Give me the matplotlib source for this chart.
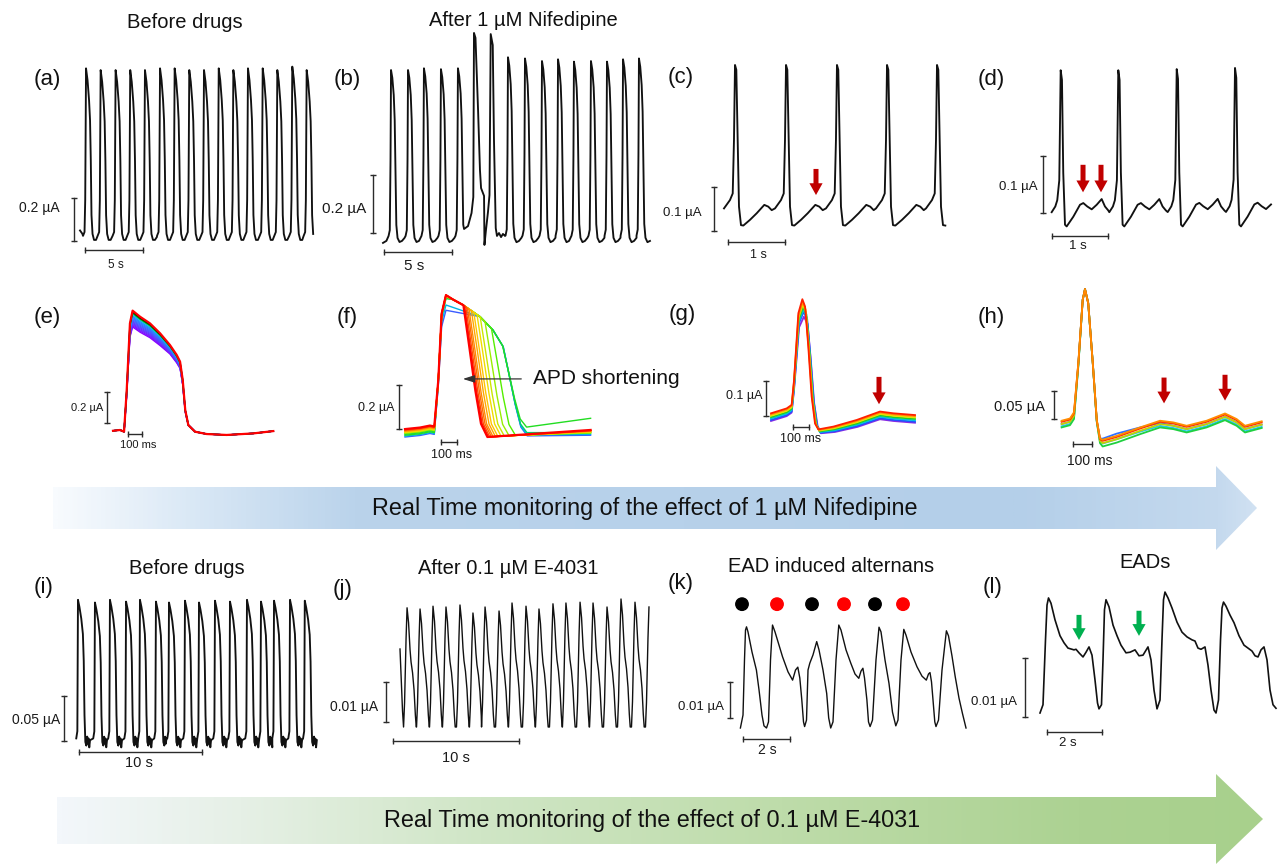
import numpy as np
import matplotlib
matplotlib.use('Agg')
import matplotlib.pyplot as plt
from matplotlib.patches import Polygon, FancyArrowPatch
from matplotlib.colors import LinearSegmentedColormap

plt.rcParams['font.family'] = ['Liberation Sans', 'DejaVu Sans']

W, H = 1279, 864

'''DATA (time in s, current in uA)'''
# (a) before drugs: one beat around its peak, then the peak times and heights
a_tt = [-0.26, -0.13, -0.07, 0.0, 0.13, 0.26, 0.345, 0.41, 0.47, 0.56, 0.69, 0.86, 1.03]
a_vv = [0.01, 0.028, 0.177, 0.79, 0.735, 0.642, 0.549, 0.363, 0.107, 0.019, -0.009, -0.009, 0.005]
a_peaks = [0.52, 1.78, 3.07, 4.33, 5.6, 6.9, 8.16, 9.42, 10.69, 11.96, 13.22, 14.48, 15.75, 17.01, 18.3, 19.54]
a_amps = [0.789, 0.781, 0.781, 0.781, 0.781, 0.789, 0.789, 0.781, 0.781, 0.789, 0.781, 0.789, 0.789, 0.781, 0.797, 0.781]
a_pre_t, a_pre_v = [0.0, 0.2], [0.035, 0.02]
a_end = 20.1

# (b) after 1 uM nifedipine
b_tt = [-0.18, -0.09, -0.037, 0.0, 0.096, 0.2, 0.27, 0.33, 0.39, 0.48, 0.625, 0.81, 0.99]
b_vv = [0.014, 0.034, 0.276, 0.586, 0.559, 0.5, 0.414, 0.241, 0.052, 0.007, -0.007, -0.003, 0.007]
b_peaks = [0.59, 1.84, 3.01, 4.26, 5.51, 9.19, 10.44, 11.69, 12.87, 14.04, 15.29, 16.47, 17.65, 18.82]
b_amps = [0.586, 0.586, 0.592, 0.589, 0.592, 0.63, 0.626, 0.617, 0.623, 0.615, 0.617, 0.615, 0.623, 0.626]
b_pre_t, b_pre_v = [0.0, 0.25], [-0.01, -0.003]
b_odd_t = [5.96, 6.25, 6.51, 6.64, 6.69, 6.80, 6.99, 7.13, 7.21, 7.32, 7.43, 7.46, 7.57, 7.72, 7.83,
           7.92, 8.07, 8.16, 8.29, 8.38, 8.53, 8.68, 8.82, 8.97]
b_odd_v = [0.038, 0.048, 0.093, 0.148, 0.714, 0.697, 0.448, 0.241, 0.179, 0.166, 0.152, -0.017, 0.034,
           0.097, 0.155, 0.71, 0.672, 0.345, 0.041, 0.014, 0.024, 0.01, 0.021, 0.014]
b_end = 19.63

# (c) EAD bump
c_tt = [-0.193, -0.088, -0.040, -0.018, 0.0, 0.023, 0.047, 0.070, 0.105, 0.146, 0.263, 0.381, 0.514, 0.584, 0.644]
c_vv = [0.040, 0.059, 0.074, 0.195, 0.366, 0.355, 0.195, 0.044, 0.002, 0.001, 0.014, 0.029, 0.048, 0.044, 0.036]
c_peaks = [0.193, 1.088, 1.982, 2.860, 3.737]
c_amps = [0.366, 0.366, 0.366, 0.366, 0.366]
c_end = 3.98
c_arrows = [1.614]

# (d) double EAD bumps
d_tt = [-0.161, -0.096, -0.061, -0.025, 0.0, 0.023, 0.046, 0.077, 0.107, 0.225, 0.345, 0.404, 0.475,
        0.554, 0.643, 0.732, 0.791, 0.850]
d_vv = [0.026, 0.036, 0.047, 0.082, 0.275, 0.258, 0.095, 0.004, 0.001, 0.018, 0.039, 0.042, 0.036,
        0.031, 0.039, 0.049, 0.036, 0.029]
d_peaks = [0.155, 1.184, 2.227, 3.268]
d_amps = [0.275, 0.275, 0.277, 0.279]
d_end = 3.95
d_arrows = [0.554, 0.875]

# (e) overlaid beats before drugs, top trace plus plateau drop of each trace
e_tt = [0.0, 0.05, 0.079, 0.098, 0.121, 0.14, 0.193, 0.264, 0.336, 0.407, 0.455, 0.479, 0.498, 0.516,
        0.538, 0.586, 0.669, 0.812, 1.002, 1.145]
e_vv = [-0.005, 0.0, -0.011, 0.258, 0.688, 0.77, 0.731, 0.688, 0.624, 0.548, 0.484, 0.441, 0.323, 0.129,
        0.032, -0.011, -0.026, -0.032, -0.022, -0.007]
e_plateau = [0, 0, 0, 0.3, 0.85, 1.0, 0.95, 0.88, 0.75, 0.55, 0.48, 0.42, 0.3, 0.1, 0, 0, 0, 0, 0, 0]
e_drop = [0.105, 0.097, 0.089, 0.081, 0.073, 0.065, 0.057, 0.049, 0.041, 0.033, 0.024, 0.016, 0.008, 0.0]
e_colors = ['#8b00ff', '#8010ff', '#7420ff', '#6830ff', '#5c40ff', '#5050ff', '#4460ff', '#3870ff',
            '#2c80ff', '#2090ff', '#00c8e0', '#00b000', '#000000', '#ff0000']

# (f) APD shortening: per trace knee of repolarisation
f_colors = ['#3a5cff', '#00b4e6', '#00d26e', '#22dd22', '#55ee00', '#99ee00', '#cce600', '#f0dc00',
            '#ffc400', '#ffa600', '#ff8a00', '#ff6a00', '#ff4a00', '#ff2400', '#ff0000']
f_base = [0.0, 0.004, 0.012, 0.008, 0.016, 0.018, 0.02, 0.022, 0.024, 0.026, 0.028, 0.03, 0.032, 0.034, 0.036]
f_peak = [0.576, 0.6, 0.63, 0.63, 0.64, 0.64, 0.64, 0.64, 0.64, 0.645, 0.645, 0.645, 0.645, 0.645, 0.645]
f_knee_t = [0.614, 0.614, 0.612, 0.61, 0.54, 0.50, 0.47, 0.45, 0.43, 0.415, 0.40, 0.39, 0.38, 0.372, 0.365]
f_knee_v = [0.41, 0.41, 0.412, 0.415, 0.494, 0.524, 0.546, 0.556, 0.566, 0.574, 0.581, 0.586, 0.591, 0.596, 0.599]
f_low = [0.005, 0.01, 0.02, 0.045, 0.008, 0.006, 0.005, 0.004, 0.003, 0.002, 0.002, 0.001, 0.0, 0.0, 0.0]
f_last = [0.008, 0.012, 0.02, 0.085, 0.018, 0.02, 0.022, 0.024, 0.025, 0.026, 0.027, 0.028, 0.029, 0.03, 0.032]
f_pre_t = [0.0, 0.094, 0.156, 0.183]
f_pre_rise = [0.0, 0.007, 0.016, 0.012]
f_up_t = [0.208, 0.229, 0.256]
f_up_frac = [0.40, 0.87, 1.0]
f_plat_t = [0.30, 0.363, 0.469, 0.55]
f_plat_v = [0.625, 0.600, 0.547, 0.486]
f_fall_dt = [0.035, 0.075, 0.11, 0.15]
f_fall_frac = [0.7, 0.35, 0.1, 0.0]
f_end = 1.16

# (g) overlaid beats with one EAD bump
g_tt = [0.0, 0.098, 0.129, 0.144, 0.171, 0.196, 0.213, 0.233, 0.254, 0.275, 0.296, 0.39, 0.536, 0.681, 0.765, 0.9]
g_vv = [0.042, 0.056, 0.066, 0.137, 0.328, 0.368, 0.347, 0.233, 0.09, 0.013, -0.004, 0.004, 0.023, 0.047, 0.042, 0.037]
g_peakmask = [0, 0, 0, 0.3, 0.8, 1, 1, 0.8, 0.4, 0, 0, 0, 0, 0, 0, 0]
g_tailmask = [1, 1, 1, 0.6, 0, 0, 0, 0, 0, 0.3, 0.5, 0.7, 0.9, 1, 1, 1]
g_shiftmask = [0, 0, 0, 0, 0.3, 0.6, 1, 1, 1, 1, 1, 0.6, 0.3, 0, 0, 0]
g_shift = [0.016, 0.013, 0.01, 0.008, 0.005, 0.003, 0.0]
g_peakdrop = [-0.05, -0.036, -0.03, -0.022, -0.015, -0.008, 0.0]
g_taildrop = [-0.022, -0.019, -0.015, -0.011, -0.007, -0.003, 0.0]
g_colors = ['#8a2be2', '#2050ff', '#00c0e0', '#20d020', '#e8e000', '#ff9000', '#ff2000']
g_arrows = [0.675]

# (h) overlaid beats with two EAD bumps
h_tt = [-0.002, 0.042, 0.063, 0.086, 0.109, 0.121, 0.138, 0.162, 0.183, 0.2, 0.214, 0.288, 0.411, 0.516,
        0.586, 0.656, 0.761, 0.858, 0.919, 0.963, 1.051]
h_vv = [0.036, 0.04, 0.051, 0.141, 0.254, 0.273, 0.248, 0.141, 0.039, 0.005, 0.002, 0.009, 0.024, 0.036,
        0.033, 0.027, 0.036, 0.049, 0.039, 0.027, 0.035]
h_tailmask = [1, 1, 1, 0.5, 0, 0, 0, 0, 0.3, 0.7, 1, 1, 1, 1, 1, 1, 1, 1, 1, 1, 1]
h_earlymask = [0, 0, 0, 0, 0, 0, 0, 0, 0, 0.4, 0.8, 1, 0.6, 0.2, 0, 0, 0, 0, 0, 0, 0]
h_tail = [-0.004, -0.008, -0.01, -0.004, 0.0, 0.002]
h_early = [0.01, 0.004, 0.0, 0.0, 0.0, 0.0]
h_colors = ['#3070ff', '#20c8e8', '#20d040', '#c8d000', '#ff3000', '#ff8c00']
h_arrows = [0.537, 0.858]

# (i) before drugs, second cell
i_tt = [-0.14, -0.05, -0.02, 0.0, 0.12, 0.27, 0.4, 0.47, 0.53, 0.6, 0.68, 0.75, 0.8, 0.86, 0.92, 0.98]
i_vv = [0.004, 0.012, 0.1, 0.158, 0.15, 0.137, 0.12, 0.09, 0.03, 0.0, -0.004, 0.006, -0.002, 0.004, -0.006, 0.002]
i_peaks = [0.16, 1.54, 2.76, 4.07, 5.2, 6.5, 7.56, 8.86, 10.0, 11.3, 12.52, 13.9, 15.04, 16.1, 17.4, 18.6]
i_amps = [0.158, 0.155, 0.158, 0.156, 0.158, 0.156, 0.155, 0.157, 0.155, 0.157, 0.156, 0.158, 0.156, 0.157, 0.158, 0.157]
i_end = 19.8

# (j) after 0.1 uM E-4031
j_tt = [-0.278, -0.198, -0.079, 0.0, 0.119, 0.238, 0.317, 0.437, 0.556, 0.659, 0.73]
j_vv = [0.0, 0.006, 0.022, 0.0297, 0.026, 0.0192, 0.0162, 0.0135, 0.0092, 0.003, 0.0]
j_peaks = [0.56, 1.59, 2.62, 3.65, 4.76, 5.79, 6.75, 7.86, 8.89, 10.0, 11.03, 12.14, 13.17, 14.29, 15.32,
           16.43, 17.54, 18.65, 19.76]
j_amps = [0.0298, 0.0295, 0.0302, 0.03, 0.0305, 0.0285, 0.03, 0.029, 0.031, 0.0302, 0.0295, 0.0308, 0.031,
          0.0312, 0.031, 0.03, 0.032, 0.0312, 0.03]
j_pre_t, j_pre_v = [0.0, 0.1, 0.2], [0.0195, 0.012, 0.004]
j_end = 19.84

# (k) EAD induced alternans
k_t = [0.017, 0.128, 0.191, 0.234, 0.277, 0.34, 0.511, 0.698, 0.809, 0.936, 1.021, 1.128, 1.213, 1.298,
       1.383, 1.489, 1.809, 2.043, 2.238, 2.362, 2.46, 2.545, 2.63, 2.702, 2.749, 2.83, 2.894, 2.97, 3.106,
       3.264, 3.362, 3.532, 3.689, 3.774, 3.86, 3.957, 4.085, 4.204, 4.298, 4.511, 4.715, 4.894, 5.055,
       5.149, 5.23, 5.298, 5.4, 5.468, 5.536, 5.638, 5.787, 5.915, 6.0, 6.17, 6.34, 6.489, 6.63, 6.723,
       6.851, 6.97, 7.064, 7.277, 7.532, 7.745, 7.928, 8.021, 8.085, 8.149, 8.213, 8.289, 8.34, 8.447,
       8.596, 8.783, 8.872, 9.021, 9.157, 9.319, 9.464, 9.617]
k_v = [0.0, 0.0036, 0.0189, 0.0272, 0.0281, 0.0267, 0.0211, 0.0161, 0.0106, 0.0036, 0.0006, 0.0, 0.0017,
       0.0189, 0.0286, 0.0267, 0.0198, 0.0156, 0.0133, 0.0161, 0.0169, 0.0139, 0.0078, 0.0017, 0.0004,
       0.0022, 0.0161, 0.018, 0.0203, 0.024, 0.0217, 0.0161, 0.0096, 0.0028, 0.0, 0.0017, 0.0189, 0.0286,
       0.0272, 0.0217, 0.018, 0.015, 0.0138, 0.0158, 0.0166, 0.0139, 0.0078, 0.0017, 0.0004, 0.0022, 0.0189,
       0.028, 0.0267, 0.0189, 0.0124, 0.0044, 0.0006, 0.0022, 0.0189, 0.0274, 0.0258, 0.0211, 0.017, 0.0144,
       0.0133, 0.015, 0.0154, 0.0128, 0.0078, 0.0017, 0.0004, 0.0022, 0.0161, 0.027, 0.0256, 0.02, 0.0143,
       0.0083, 0.0041, 0.0]
k_dots_t = [0.085, 1.574, 3.064, 4.426, 5.745, 6.936]
k_dots_c = ['black', '#ff0000', 'black', '#ff0000', 'black', '#ff0000']

# (l) EADs
l_t = [0.0, 0.109, 0.2, 0.255, 0.309, 0.4, 0.545, 0.727, 0.873, 1.018, 1.164, 1.236, 1.309, 1.418, 1.564,
       1.673, 1.782, 1.891, 2.0, 2.091, 2.145, 2.236, 2.291, 2.345, 2.4, 2.509, 2.655, 2.8, 2.945, 3.127,
       3.273, 3.455, 3.6, 3.745, 3.927, 4.036, 4.145, 4.255, 4.364, 4.436, 4.491, 4.545, 4.655, 4.8, 4.982,
       5.164, 5.345, 5.527, 5.636, 5.745, 5.855, 6.0, 6.109, 6.218, 6.327, 6.4, 6.491, 6.564, 6.618, 6.673,
       6.764, 6.909, 7.055, 7.236, 7.418, 7.564, 7.709, 7.818, 7.927, 8.036, 8.145, 8.255, 8.364, 8.473, 8.582]
l_v = [0.0, 0.0014, 0.0124, 0.0183, 0.0195, 0.0186, 0.0158, 0.0131, 0.0119, 0.011, 0.0108, 0.0107, 0.0108,
       0.0102, 0.0095, 0.0103, 0.0112, 0.0098, 0.0056, 0.0017, 0.0007, 0.0014, 0.009, 0.0175, 0.0192, 0.018,
       0.0149, 0.0131, 0.0115, 0.0102, 0.0103, 0.0107, 0.0097, 0.0098, 0.0112, 0.009, 0.0039, 0.0007, 0.0022,
       0.0124, 0.0192, 0.0205, 0.0195, 0.0178, 0.0154, 0.0137, 0.0129, 0.0124, 0.0122, 0.011, 0.0108, 0.0112,
       0.0081, 0.0039, 0.0005, 0.0, 0.0022, 0.0124, 0.0178, 0.0188, 0.0181, 0.0166, 0.0153, 0.0131, 0.0115,
       0.011, 0.0105, 0.0097, 0.0095, 0.0107, 0.0112, 0.009, 0.0039, 0.0014, 0.0008]
l_arrows = [1.418, 3.6]


'''HELPERS'''
def train(peaks, amps, tt, vv, extra=()):
    tt, vv = np.asarray(tt), np.asarray(vv)
    segs = [(p + tt, vv * a / vv.max()) for p, a in zip(peaks, amps)]
    segs += [(np.asarray(t), np.asarray(v)) for t, v in extra]
    segs.sort(key=lambda s: s[0][0])
    T, V = [], []
    for n, (t, v) in enumerate(segs):
        if n + 1 < len(segs):
            keep = t < segs[n + 1][0][0]
            t, v = t[keep], v[keep]
        T.append(t)
        V.append(v)
    return np.concatenate(T), np.concatenate(V)


def clipped(t, v, t0, t1):
    keep = (t >= t0) & (t <= t1)
    return t[keep], v[keep]


fig = plt.figure(figsize=(W / 100, H / 100), dpi=100)


def panel(x0, y0, sx, sy, box):
    l, t, r, b = box
    ax = fig.add_axes([l / W, 1 - b / H, (r - l) / W, (b - t) / H])
    ax.set_xlim((l - x0) / sx, (r - x0) / sx)
    ax.set_ylim((y0 - b) / sy, (y0 - t) / sy)
    ax.axis('off')
    ax.patch.set_alpha(0)
    return ax


def bars(ax, vx, vy, hx, hy, vlab, hlab, vpos, hpos, fs):
    kw = dict(color='#2b2b2b', lw=1.0, clip_on=False)
    ax.plot([vx, vx], vy, marker='_', ms=4, mew=1.0, **kw)
    ax.plot(hx, [hy, hy], marker='|', ms=4, mew=1.0, **kw)
    ax.text(vpos[0], vpos[1], vlab, ha='right', va='center', fontsize=fs[0], color='#1a1a1a')
    ax.text(hpos[0], hpos[1], hlab, ha='center', va='center', fontsize=fs[1], color='#1a1a1a')


def down_arrow(ax, t, v0, v1, color):
    ax.add_patch(FancyArrowPatch((t, v0), (t, v1), arrowstyle='simple,head_length=0.85,head_width=0.95,tail_width=0.36',
                                 mutation_scale=10, color=color, lw=0, clip_on=False))


def ftext(x, y, s, fs, **kw):
    fig.text(x / W, 1 - y / H, s, fontsize=fs, ha='center', va='center', color='#111111', **kw)


'''BACKGROUND ARROW BANDS'''
bg = fig.add_axes([0, 0, 1, 1])
bg.axis('off')


def band(y_top, y_bot, h_top, h_bot, x_left, x_neck, x_tip, stops):
    yc = (h_top + h_bot) / 2
    verts = [(x_left, y_top), (x_neck, y_top), (x_neck, h_top), (x_tip, yc), (x_neck, h_bot),
             (x_neck, y_bot), (x_left, y_bot)]
    poly = Polygon(verts, closed=True, facecolor='none', edgecolor='none')
    bg.add_patch(poly)
    cmap = LinearSegmentedColormap.from_list('band', stops)
    grad = np.linspace(0, 1, 600)[None, :]
    im = bg.imshow(grad, cmap=cmap, extent=(x_left, x_tip, h_bot, h_top), aspect='auto', interpolation='bilinear')
    im.set_clip_path(poly)


band(487, 529, 466, 550, 53, 1216, 1257,
     [(0, '#f8fbfe'), (0.12, '#d8e7f5'), (0.25, '#bad3eb'), (0.8, '#b4cfe9'), (0.97, '#c4d9ee'), (1.0, '#d0e1f2')])
band(797, 844, 774, 864, 57, 1216, 1263,
     [(0, '#f3f7fb'), (0.15, '#e6f0e6'), (0.35, '#d0e6c6'), (0.6, '#bedcaa'), (0.85, '#acd292'), (1.0, '#a8d08c')])
bg.set_xlim(0, W)
bg.set_ylim(H, 0)

ftext(645, 509, 'Real Time monitoring of the effect of 1 \u00b5M Nifedipine', 16.8)
ftext(652, 821, 'Real Time monitoring of the effect of 0.1 \u00b5M E-4031', 16.8)

'''TITLES AND PANEL LETTERS'''
ftext(185, 23, 'Before drugs', 14.5)
ftext(523, 20, 'After 1 \u00b5M Nifedipine', 14.5)
ftext(187, 568, 'Before drugs', 14.5)
ftext(508, 568, 'After 0.1 \u00b5M E-4031', 14.5)
ftext(831, 567, 'EAD induced alternans', 14.5)
ftext(1145, 563, 'EADs', 14.5)
for lab, x, y in [('(a)', 47, 80), ('(b)', 347, 80), ('(c)', 681, 77), ('(d)', 991, 80),
                  ('(e)', 47, 317), ('(f)', 347, 317), ('(g)', 682, 315), ('(h)', 991, 317),
                  ('(i)', 44, 587), ('(j)', 343, 589), ('(k)', 681, 584), ('(l)', 993, 587)]:
    ftext(x, y, lab, 16)

TR = dict(color='#111111', lw=1.35, solid_joinstyle='round')

'''(a)'''
ax = panel(80, 238, 11.6, 215, (0, 40, 322, 285))
t, v = train(a_peaks, a_amps, a_tt, a_vv, extra=[(a_pre_t, a_pre_v)])
ax.plot(*clipped(t, v, 0, a_end), **TR)
bars(ax, -0.52, [-0.014, 0.186], [0.43, 5.43], -0.056, '0.2 \u00b5A', '5 s', (-1.72, 0.14), (3.1, -0.126), (10, 8.5))

'''(b)'''
ax = panel(383, 240, 13.6, 290, (320, 20, 655, 285))
t, v = train(b_peaks, b_amps, b_tt, b_vv, extra=[(b_pre_t, b_pre_v), (b_odd_t, b_odd_v)])
ax.plot(*clipped(t, v, 0, b_end), **TR)
bars(ax, -0.74, [0.024, 0.224], [0.07, 5.07], -0.04, '0.2 \u00b5A', '5 s', (-1.25, 0.107), (2.28, -0.089), (11, 11))

'''(c)'''
ax = panel(724, 226, 57, 440, (655, 50, 960, 285))
t, v = train(c_peaks, c_amps, c_tt, c_vv)
ax.plot(*clipped(t, v, 0, c_end), **TR)
bars(ax, -0.175, [-0.011, 0.089], [0.07, 1.07], -0.036, '0.1 \u00b5A', '1 s', (-0.4, 0.03), (0.6, -0.066), (9.5, 9))
for at in c_arrows:
    down_arrow(ax, at, 0.136, 0.064, '#c00000')

'''(d)'''
ax = panel(1052, 227, 56, 570, (960, 50, 1279, 285))
t, v = train(d_peaks, d_amps, d_tt, d_vv)
ax.plot(*clipped(t, v, -0.01, d_end), **TR)
bars(ax, -0.161, [0.025, 0.125], [0.0, 1.0], -0.016, '0.1 \u00b5A', '1 s', (-0.25, 0.07), (0.46, -0.034), (9.5, 9.5))
for at in d_arrows:
    down_arrow(ax, at, 0.114, 0.056, '#c00000')

'''(e)'''
ax = panel(113, 430, 140, 155, (0, 290, 320, 470))
for drop, col in zip(e_drop, e_colors):
    vv = np.asarray(e_vv) - drop * np.asarray(e_plateau)
    ax.plot(e_tt, vv, color=col, lw=1.6 if col == '#ff0000' else 1.0, solid_joinstyle='round')
bars(ax, -0.043, [0.045, 0.245], [0.107, 0.207], -0.026, '0.2 \u00b5A', '100 ms', (-0.071, 0.142), (0.179, -0.097), (8, 8))

'''(f)'''
ax = panel(405, 437, 160, 220, (320, 285, 660, 470))
for n in range(len(f_colors)):
    kt, kv, lo = f_knee_t[n], f_knee_v[n], f_low[n]
    tt = list(f_pre_t) + list(f_up_t)
    vv = [f_base[n] + r for r in f_pre_rise] + [f_peak[n] * fr for fr in f_up_frac]
    for pt, pv in zip(f_plat_t, f_plat_v):
        if pt < kt and pv < f_peak[n]:
            tt.append(pt)
            vv.append(pv)
    tt += [kt] + [kt + d for d in f_fall_dt] + [f_end]
    vv += [kv] + [lo + fr * (kv - lo) for fr in f_fall_frac] + [f_last[n]]
    ax.plot(tt, vv, color=f_colors[n], lw=1.6 if n == len(f_colors) - 1 else 1.0, solid_joinstyle='round')
bars(ax, -0.0375, [0.036, 0.236], [0.225, 0.325], -0.021, '0.2 \u00b5A', '100 ms', (-0.0625, 0.132), (0.294, -0.08), (9, 9))
ax.annotate('', xy=(0.344, 0.264), xytext=(0.744, 0.264),
            arrowprops=dict(arrowstyle='-|>,head_length=0.7,head_width=0.22', color='#333333', lw=0.9))
ax.text(0.80, 0.264, 'APD shortening', fontsize=15, ha='left', va='center', color='#111111', clip_on=False)

'''(g)'''
ax = panel(771, 428, 160, 350, (655, 285, 960, 470))
for sh, pd, td, col in zip(g_shift, g_peakdrop, g_taildrop, g_colors):
    tt = np.asarray(g_tt) + sh * np.asarray(g_shiftmask)
    vv = np.asarray(g_vv) + pd * np.asarray(g_peakmask) + td * np.asarray(g_tailmask)
    ax.plot(tt, vv, color=col, lw=1.3, solid_joinstyle='round')
bars(ax, -0.031, [0.034, 0.134], [0.1375, 0.2375], 0.004, '0.1 \u00b5A', '100 ms', (-0.056, 0.091), (0.1875, -0.031), (9, 9))
for at in g_arrows:
    down_arrow(ax, at, 0.154, 0.06, '#c00000')

'''(h)'''
ax = panel(1062, 442, 190, 560, (960, 280, 1279, 470))
for td, ed, col in zip(h_tail, h_early, h_colors):
    vv = np.asarray(h_vv) + td * np.asarray(h_tailmask) + ed * np.asarray(h_earlymask)
    ax.plot(h_tt, vv, color=col, lw=1.3, solid_joinstyle='round')
bars(ax, -0.042, [0.041, 0.091], [0.058, 0.158], -0.004, '0.05 \u00b5A', '100 ms', (-0.089, 0.0625), (0.147, -0.034), (10.5, 10))
for at, top in zip(h_arrows, [0.12, 0.125]):
    down_arrow(ax, at, top, top - 0.056, '#c00000')

'''(i)'''
ax = panel(76, 742, 12.3, 900, (0, 585, 325, 775))
t, v = train(i_peaks, i_amps, i_tt, i_vv)
ax.plot(*clipped(t, v, 0, i_end), **TR)
bars(ax, -0.98, [0.001, 0.051], [0.24, 10.24], -0.011, '0.05 \u00b5A', '10 s', (-1.3, 0.024), (5.12, -0.023), (10, 10.5))

'''(j)'''
ax = panel(400, 727, 12.6, 4000, (325, 590, 655, 770))
t, v = train(j_peaks, j_amps, j_tt, j_vv, extra=[(j_pre_t, j_pre_v)])
ax.plot(*clipped(t, v, 0, j_end), color='#111111', lw=1.0)
bars(ax, -1.11, [0.00125, 0.01125], [-0.56, 9.44], -0.0035, '0.01 \u00b5A', '10 s', (-1.75, 0.005), (4.44, -0.00775), (10, 10.5))

'''(k)'''
ax = panel(740, 728, 23.5, 3600, (655, 590, 970, 770))
ax.plot(k_t, k_v, color='#111111', lw=1.0)
ax.scatter(k_dots_t, [0.0344] * len(k_dots_t), s=80, c=k_dots_c, clip_on=False, zorder=3)
bars(ax, -0.426, [0.0028, 0.0128], [0.128, 2.128], -0.0031, '0.01 \u00b5A', '2 s', (-0.68, 0.0058), (1.15, -0.0061), (9.5, 10))

'''(l)'''
ax = panel(1040, 713, 27.5, 5900, (965, 585, 1279, 760))
ax.plot(l_t, l_v, color='#111111', lw=1.2)
bars(ax, -0.545, [-0.0007, 0.0093], [0.255, 2.255], -0.0032, '0.01 \u00b5A', '2 s', (-0.836, 0.0019), (1.02, -0.0051), (9.5, 9.5))
for at, top in zip(l_arrows, [0.0171, 0.0178]):
    down_arrow(ax, at, top, top - 0.0052, '#00b050')

fig.savefig('out.png', dpi=100)
